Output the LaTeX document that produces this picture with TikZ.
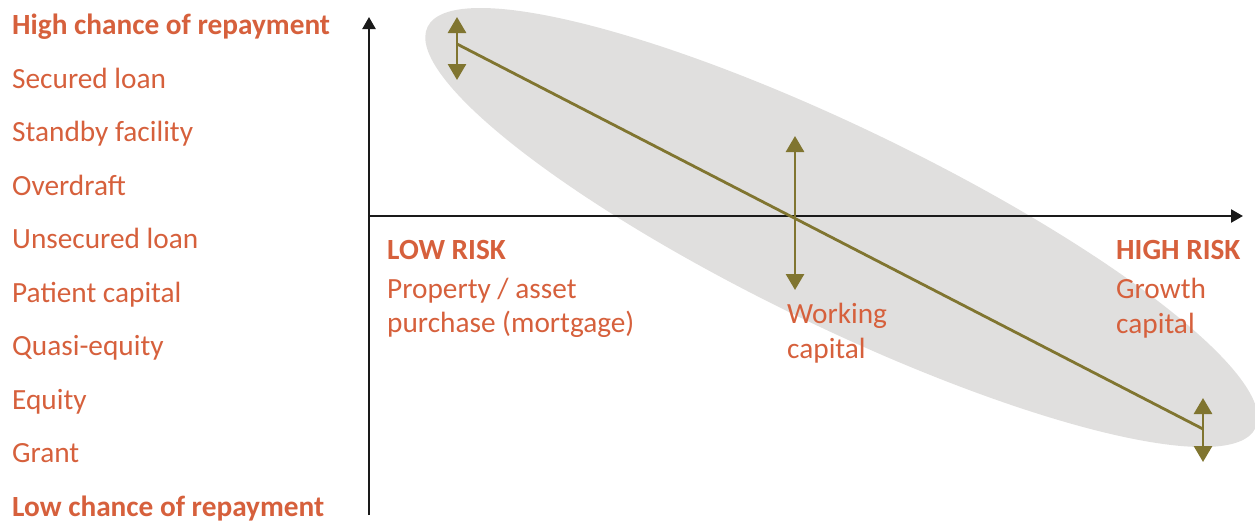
\documentclass[tikz,border=0pt]{standalone}
\usepackage{fontspec}
\setmainfont{Carlito}
\usetikzlibrary{positioning,arrows.meta}
\definecolor{colortext} {RGB}{214,96 ,60 }
\definecolor{colorband} {RGB}{224,223,222}
\definecolor{colorarrow}{RGB}{128,117,48 }
\definecolor{coloraxis} {RGB}{26 ,26 ,26 }

\begin{document}
\begin{tikzpicture}[
    x=1pt, y=-1pt,
    base/.style={text=colortext,font={\fontsize{29.3}{29.3}\selectfont},inner sep=0pt,anchor=base west},
    txt/.style={base,font={\fontsize{29.3}{29.3}\selectfont\bfseries}},
    axis/.style={draw=coloraxis,line width=2.3pt,-{Triangle[width=13pt,length=12pt]}},
    spread/.style={draw=colorarrow,line width=2.8pt,{Triangle[width=18pt,length=16pt]}-{Triangle[width=18pt,length=16pt]}},
]
    \useasboundingbox (0,0) rectangle (1255,523);

    % grey band
    \fill[colorband,rotate around={-25.85:(841.5,227.5)}] (841.5,227.5) ellipse [x radius=460, y radius=99];

    % axes
    \coordinate (origin) at (369,216);
    \coordinate (ybot)   at (369,515);
    \coordinate (ytip)   at (369,17);
    \coordinate (xtip)   at (1243,216);
    \draw[axis](ybot) -- (ytip);
    \draw[axis](origin) -- (xtip);

    % repayment scale
    \node[txt]  at (12,34.5)  (high)      {High chance of repayment};
    \node[base] at (12,88)    (secured)   {Secured loan};
    \node[base] at (12,141.5) (standby)   {Standby facility};
    \node[base] at (12,195)   (overdraft) {Overdraft};
    \node[base] at (12,248.5) (unsecured) {Unsecured loan};
    \node[base] at (12,302)   (patient)   {Patient capital};
    \node[base] at (12,355.5) (quasi)     {Quasi-equity};
    \node[base] at (12,409)   (equity)    {Equity};
    \node[base] at (12,462.5) (grant)     {Grant};
    \node[txt]  at (12,516)   (low)       {Low chance of repayment};

    % risk labels
    \node[txt]  at (387,259)  (lowrisk)   {LOW RISK};
    \node[base] at (387,298)  (property)  {Property / asset};
    \node[base] at (387,332)  (purchase)  {purchase (mortgage)};

    \node[base] at (787,323)  (working)   {Working};
    \node[base] at (787,358)  (workcap)   {capital};

    \node[txt]  at (1116,259) (highrisk)  {HIGH RISK};
    \node[base] at (1116,298) (growth)    {Growth};
    \node[base] at (1116,333) (growcap)   {capital};

    % trend line and ranges
    \coordinate (lowend)  at (457,44);
    \coordinate (highend) at (1203,429);
    \draw[colorarrow,line width=2.8pt](lowend) -- (highend);

    \coordinate (lowtop)  at (457,17);
    \coordinate (lowbot)  at (457,80);
    \draw[spread](lowtop) -- (lowbot);

    \coordinate (midtop)  at (795,136);
    \coordinate (midbot)  at (795,290);
    \draw[spread](midtop) -- (midbot);

    \coordinate (hightop) at (1203,398);
    \coordinate (highbot) at (1203,462);
    \draw[spread](hightop) -- (highbot);

\end{tikzpicture}
\end{document}
